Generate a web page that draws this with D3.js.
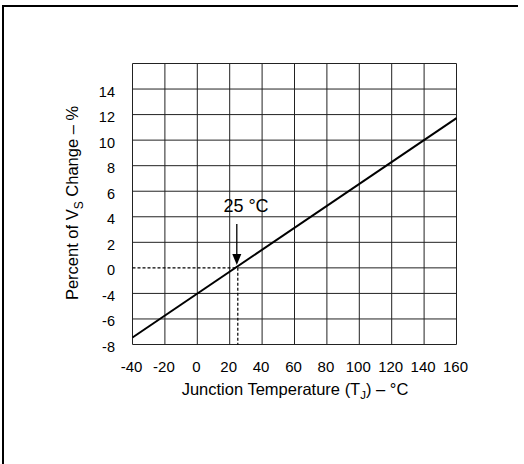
<!DOCTYPE html>
<html><head><meta charset="utf-8">
<script src="https://cdn.jsdelivr.net/npm/d3@7"></script>
<style>body{margin:0;background:#fff}svg{display:block}text{font-family:"Liberation Sans",Arial,sans-serif;fill:#000}</style>
</head><body>
<script>
// Data (y in grid-position units; the printed tick labels skip "-2")
const tempPoints = [-40, 160];
const pctPoints = [-5.45, 11.72];
const xTickValues = [-40, -20, 0, 20, 40, 60, 80, 100, 120, 140, 160];
const yGridValues = [-6, -4, -2, 0, 2, 4, 6, 8, 10, 12, 14, 16];
const yTickValues = [-6, -4, -2, 0, 2, 4, 6, 8, 10, 12, 14];
const yTickLabels = ["-8", "-6", "-4", "0", "2", "4", "6", "8", "10", "12", "14"];
const refTemp = 25, refPct = 0;
const refLabel = "25 °C";

const W = 524, H = 464;
const svg = d3.select("body").append("svg").attr("width", W).attr("height", H);

// outer frame (top and left edges visible)
svg.append("line").attr("x1", 3).attr("x2", 518).attr("y1", 6).attr("y2", 6).attr("stroke", "#000").attr("stroke-width", 2);
svg.append("line").attr("x1", 3).attr("x2", 3).attr("y1", 5).attr("y2", H).attr("stroke", "#000").attr("stroke-width", 2);

const x = d3.scaleLinear().domain([-40, 160]).range([132.5, 456.5]);
const y = d3.scaleLinear().domain([-6, 16]).range([344.5, 63.5]);

const g = svg.append("g");
// grid
g.selectAll(".vg").data(xTickValues).enter().append("line")
  .attr("x1", d => x(d)).attr("x2", d => x(d)).attr("y1", y(16)).attr("y2", y(-6))
  .attr("stroke", "#222").attr("stroke-width", 1);
g.selectAll(".hg").data(yGridValues.filter(v => v !== refPct)).enter().append("line")
  .attr("x1", x(-40)).attr("x2", x(160)).attr("y1", d => y(d)).attr("y2", d => y(d))
  .attr("stroke", "#222").attr("stroke-width", 1);
// 0 line: dashed left of reference, solid right
g.append("line").attr("x1", x(-40)).attr("x2", x(refTemp)).attr("y1", y(refPct)).attr("y2", y(refPct))
  .attr("stroke", "#000").attr("stroke-width", 1.2).attr("stroke-dasharray", "3,2");
g.append("line").attr("x1", x(refTemp)).attr("x2", x(160)).attr("y1", y(refPct)).attr("y2", y(refPct))
  .attr("stroke", "#222").attr("stroke-width", 1);
// dashed vertical at reference
g.append("line").attr("x1", x(refTemp)).attr("x2", x(refTemp)).attr("y1", y(refPct)).attr("y2", y(-6))
  .attr("stroke", "#000").attr("stroke-width", 1.2).attr("stroke-dasharray", "3,2");

// tick labels
svg.append("g").selectAll("text").data(xTickValues).enter().append("text")
  .attr("x", d => x(d) - 1).attr("y", 371.5).attr("text-anchor", "middle").attr("font-size", 15).text(d => d);
svg.append("g").selectAll("text").data(yTickValues).enter().append("text")
  .attr("x", 115).attr("y", d => y(d) + 7.5).attr("text-anchor", "end").attr("font-size", 14.5)
  .text((d, i) => yTickLabels[i]);

// data line
const line = d3.line().x(d => x(d[0])).y(d => y(d[1]));
svg.append("path").datum(tempPoints.map((t, i) => [t, pctPoints[i]]))
  .attr("d", line).attr("fill", "none").attr("stroke", "#000").attr("stroke-width", 2);

// annotation
const ax = x(refTemp) - 1;
svg.append("line").attr("x1", ax).attr("x2", ax).attr("y1", 224).attr("y2", 258).attr("stroke", "#000").attr("stroke-width", 1.3);
svg.append("path").attr("d", `M${ax - 4.5},${254} L${ax + 4.5},${254} L${ax},${265} Z`).attr("fill", "#000");
svg.append("text").attr("x", 246).attr("y", 212).attr("text-anchor", "middle").attr("font-size", 18).text(refLabel);

// axis titles
const xt = svg.append("text").attr("x", 295).attr("y", 395).attr("text-anchor", "middle").attr("font-size", 16.5);
xt.append("tspan").text("Junction Temperature (T");
xt.append("tspan").attr("font-size", 11.5).attr("dy", 3.5).text("J");
xt.append("tspan").attr("dy", -3.5).text(") – °C");

const yt = svg.append("text").attr("transform", "translate(78,203) rotate(-90)").attr("text-anchor", "middle").attr("font-size", 16.5);
yt.append("tspan").text("Percent of V");
yt.append("tspan").attr("font-size", 12).attr("dy", 4.5).text("S");
yt.append("tspan").attr("dy", -4.5).text(" Change – %");
</script>
</body></html>
